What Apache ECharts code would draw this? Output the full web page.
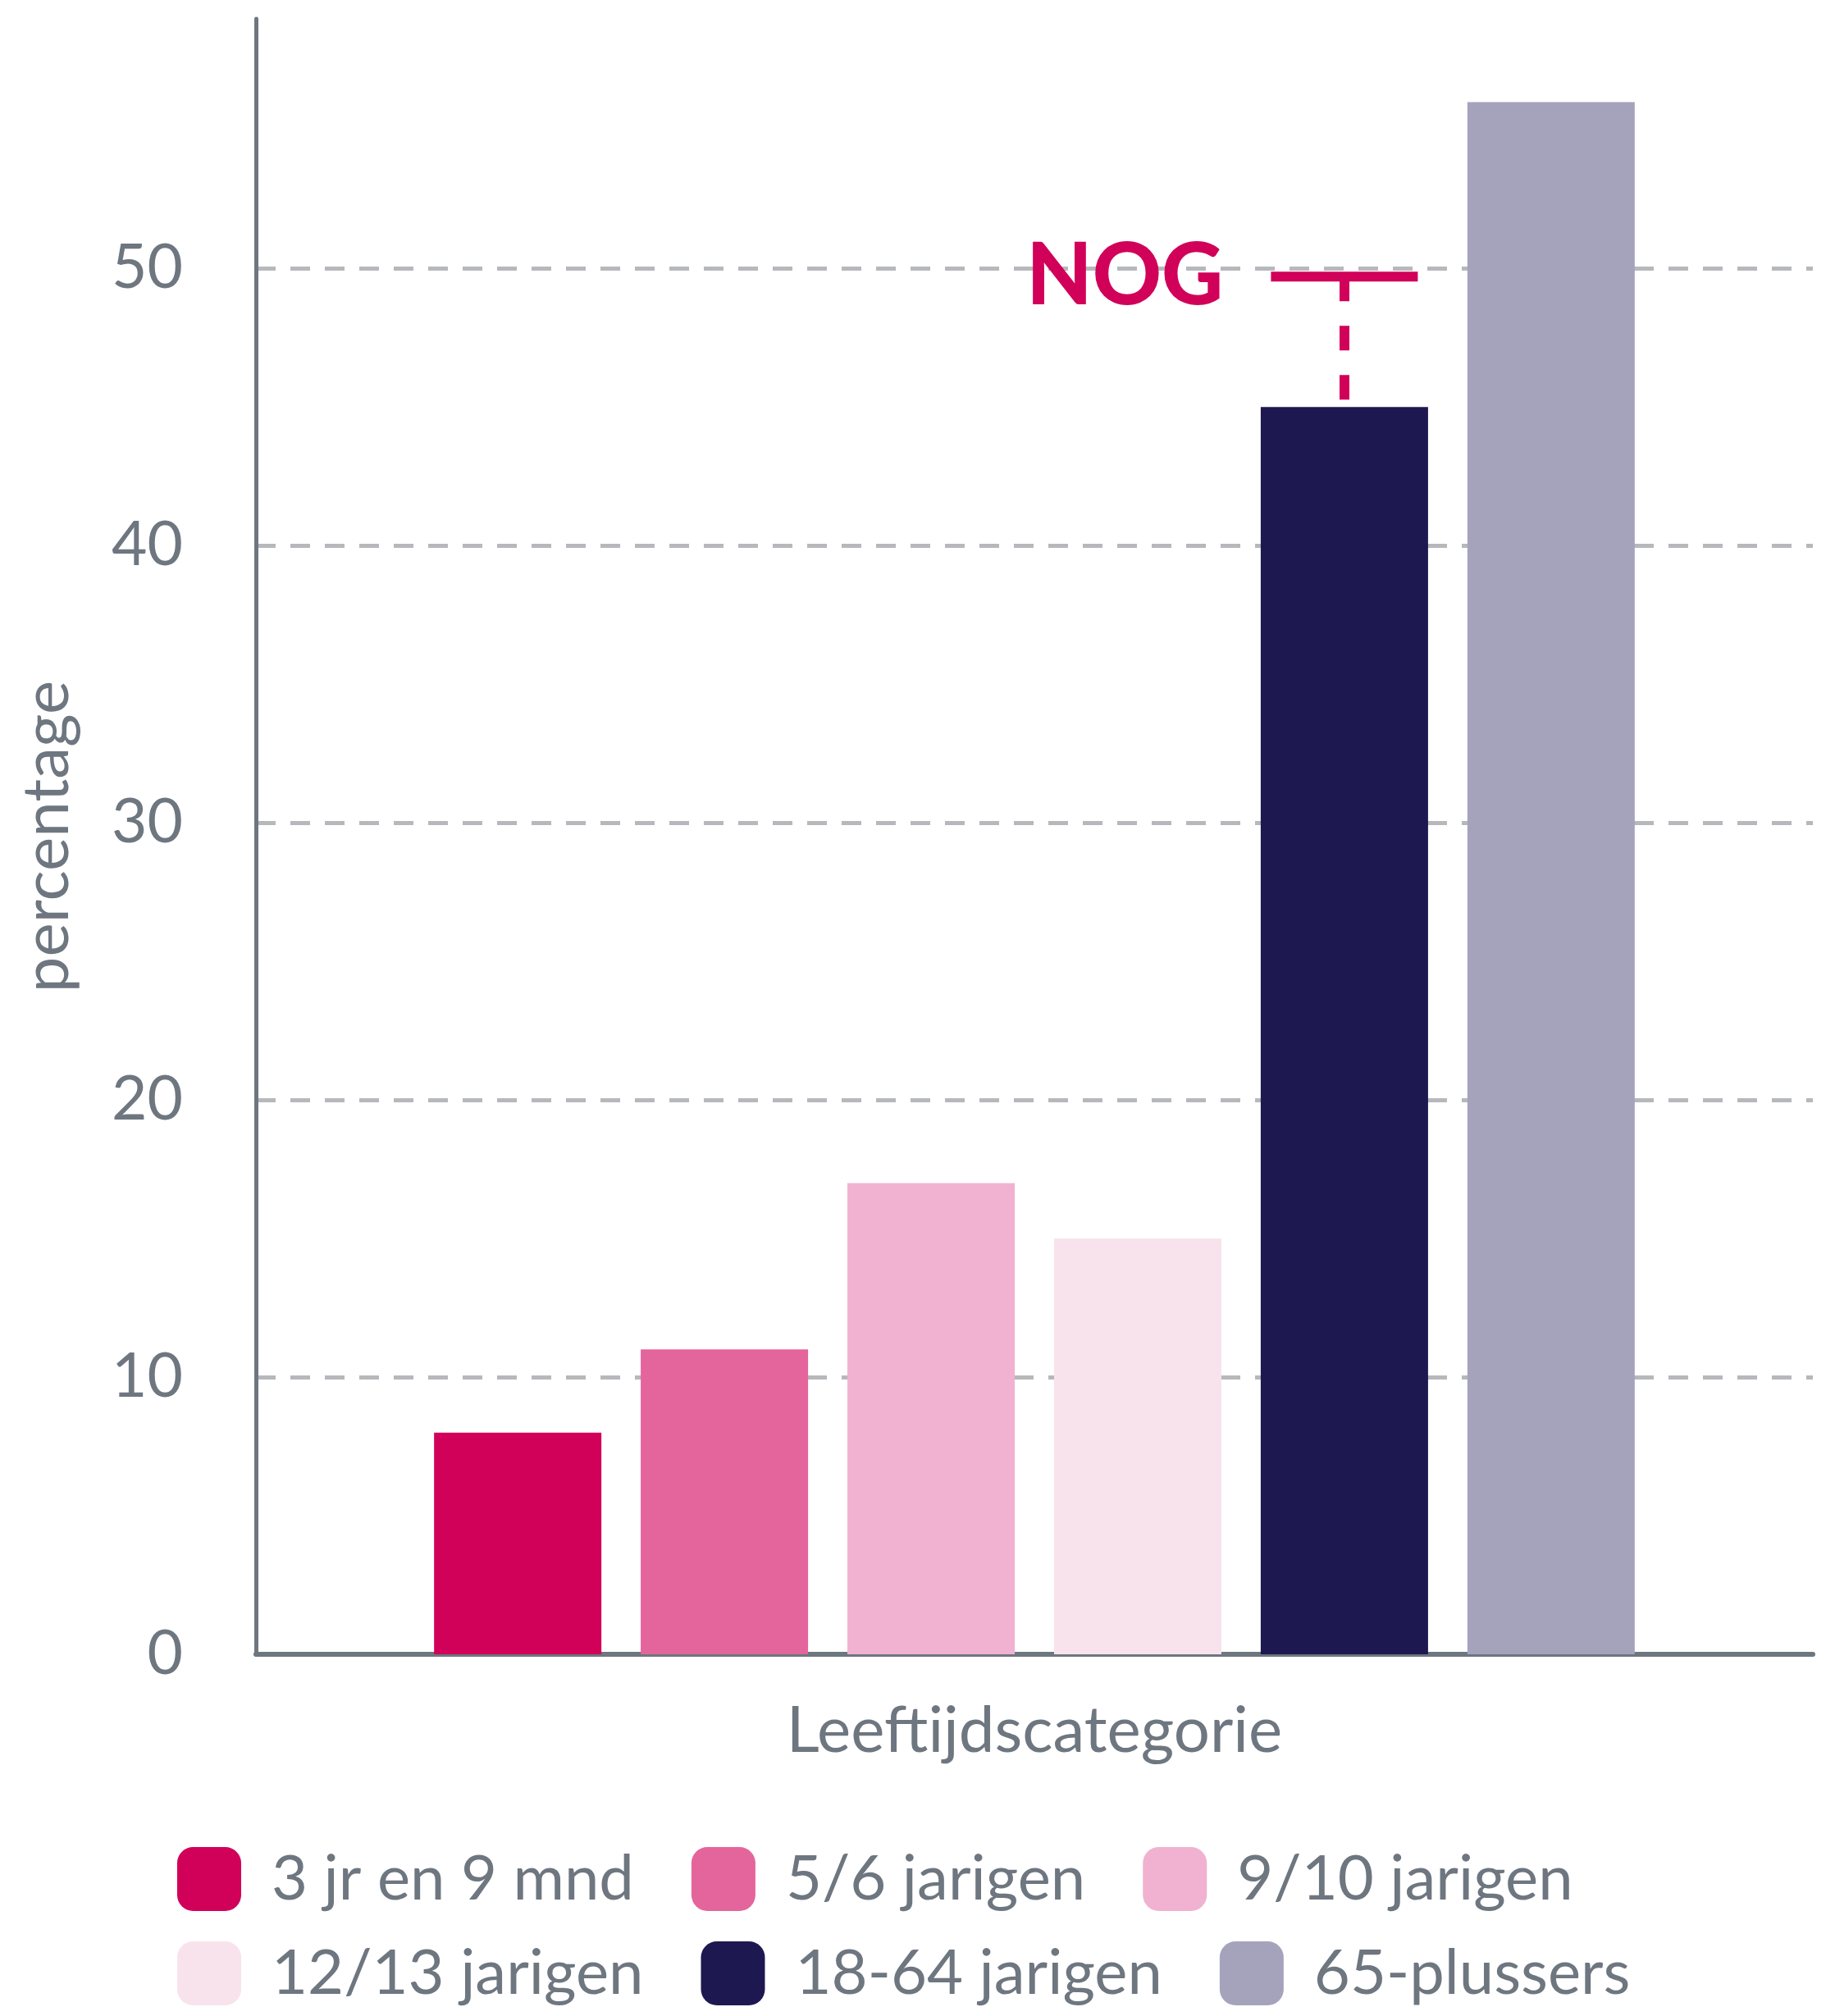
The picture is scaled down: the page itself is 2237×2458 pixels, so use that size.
<!DOCTYPE html>
<html>
<head>
<meta charset="utf-8">
<script src="https://cdn.jsdelivr.net/npm/echarts@6/dist/echarts.min.js"></script>
<style>
  html, body { margin: 0; padding: 0; background: #ffffff; }
  #chart { width: 2237px; height: 2458px; }
</style>
</head>
<body>
<div id="chart"></div>
<script>
// leeftijdsgroepen (legenda) en percentages
const groups = ["3 jr en 9 mnd", "5/6 jarigen", "9/10 jarigen", "12/13 jarigen", "18-64 jarigen", "65-plussers"];
const values = [8, 11, 17, 15, 45, 56];
const palette = ["#d10059", "#e4659b", "#f0b2d0", "#f8e3ed", "#1e1850", "#a5a3bc"];
// norm (NOG) boven de 18-64 balk
const nogValue = 49.7;
const nogSeriesIndex = 4;

const axisGrey = "#6e7680";
const font = "Lato";

const chart = echarts.init(document.getElementById("chart"));

const series = groups.map((name, i) => {
  const s = {
    name: name,
    type: "bar",
    data: [values[i]],
    barWidth: 204,
    barGap: "23.5%",
    itemStyle: { color: palette[i] },
    emphasis: { disabled: true },
    silent: true,
  };
  if (i === nogSeriesIndex) {
    // gestippelde lijn van de norm naar de bovenkant van de balk
    s.markLine = {
      silent: true,
      symbol: "none",
      label: { show: false },
      lineStyle: { type: [30, 30], width: 12, color: "#d10059" },
      emphasis: { disabled: true },
      data: [[{ coord: [0, nogValue] }, { coord: [0, values[i]] }]],
    };
    s.markPoint = {
      silent: true,
      symbol: "rect",
      symbolSize: [179, 12],
      itemStyle: { color: "#d10059" },
      label: {
        show: true,
        formatter: "NOG",
        position: "left",
        distance: 58,
        fontFamily: font,
        fontWeight: 900,
        fontSize: 104,
        color: "#d10059",
      },
      data: [{ coord: [0, nogValue] }],
    };
  }
  return s;
});

const legendText = {
  fontFamily: font,
  fontSize: 76,
  color: axisGrey,
  padding: [10, 0, 0, 32],
};

const option = {
  animation: false,
  color: palette,
  grid: { left: 312, right: 27, top: 23, bottom: 441 },
  legend: [
    {
      data: groups.slice(0, 3),
      left: 216,
      top: 2252,
      padding: 0,
      itemWidth: 78,
      itemHeight: 78,
      itemGap: 70,
      icon: "roundRect",
      textStyle: legendText,
      selectedMode: false,
    },
    {
      data: groups.slice(3),
      left: 216,
      top: 2367,
      padding: 0,
      itemWidth: 78,
      itemHeight: 78,
      itemGap: 70,
      icon: "roundRect",
      textStyle: legendText,
      selectedMode: false,
    },
  ],
  xAxis: {
    type: "category",
    data: [""],
    name: "Leeftijdscategorie",
    nameLocation: "middle",
    nameGap: 55,
    nameTextStyle: { fontFamily: font, fontSize: 78, color: axisGrey },
    axisLine: { lineStyle: { color: axisGrey, width: 6 } },
    axisTick: { show: false },
    axisLabel: { show: false },
    splitLine: { show: false },
  },
  yAxis: {
    type: "value",
    min: 0,
    max: 59,
    interval: 10,
    name: "percentage",
    nameLocation: "middle",
    nameGap: 215,
    nameTextStyle: { fontFamily: font, fontSize: 78, color: axisGrey },
    axisLine: { show: true, lineStyle: { color: axisGrey, width: 5 } },
    axisTick: { show: false },
    axisLabel: {
      margin: 89,
      fontFamily: font,
      fontSize: 75,
      color: axisGrey,
      showMaxLabel: false,
    },
    splitLine: {
      show: true,
      showMinLine: false,
      showMaxLine: false,
      lineStyle: { type: [24, 18], width: 5, color: "#b6b8bc" },
    },
  },
  series: series,
};

chart.setOption(option);
</script>
</body>
</html>
